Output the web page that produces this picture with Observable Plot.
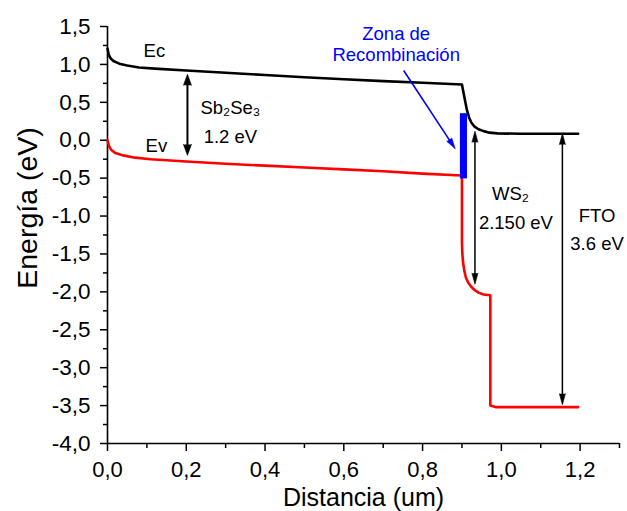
<!DOCTYPE html>
<html><head><meta charset="utf-8">
<script src="https://cdn.jsdelivr.net/npm/d3@7"></script>
<script src="https://cdn.jsdelivr.net/npm/@observablehq/plot@0.6"></script>
<style>body{margin:0;background:#fff} svg{display:block}</style>
</head><body><div id="chart"></div>
<script>
// Conduction band (Ec)
const ecDist   = [0.000, 0.003, 0.008, 0.015, 0.030, 0.050, 0.080, 0.120, 0.200, 0.300, 0.400, 0.500, 0.600, 0.700, 0.800, 0.900, 0.902, 0.905, 0.909, 0.913, 0.918, 0.924, 0.932, 0.942, 0.955, 0.970, 0.990, 1.050, 1.195];
const ecEnergy = [1.21, 1.13, 1.08, 1.045, 1.01, 0.985, 0.96, 0.945, 0.92, 0.89, 0.86, 0.83, 0.805, 0.78, 0.758, 0.735, 0.68, 0.60, 0.49, 0.39, 0.30, 0.23, 0.18, 0.145, 0.12, 0.10, 0.09, 0.085, 0.085];
// Valence band (Ev)
const evDist   = [0.000, 0.004, 0.010, 0.020, 0.040, 0.070, 0.110, 0.200, 0.300, 0.400, 0.500, 0.600, 0.700, 0.800, 0.900, 0.900, 0.901, 0.903, 0.906, 0.910, 0.916, 0.923, 0.932, 0.942, 0.955, 0.972, 0.972, 0.985, 1.195];
const evEnergy = [0.0, -0.08, -0.13, -0.17, -0.20, -0.23, -0.25, -0.28, -0.31, -0.335, -0.36, -0.385, -0.41, -0.44, -0.465, -1.35, -1.50, -1.62, -1.72, -1.81, -1.88, -1.93, -1.975, -2.01, -2.035, -2.045, -3.50, -3.52, -3.52];

const xTicks = [0, 0.2, 0.4, 0.6, 0.8, 1.0, 1.2];
const xMinorTicks = [0.1, 0.3, 0.5, 0.7, 0.9, 1.1, 1.3];
const yTicks = [-4, -3.5, -3, -2.5, -2, -1.5, -1, -0.5, 0, 0.5, 1, 1.5];
const yMinorTicks = [-3.75, -3.25, -2.75, -2.25, -1.75, -1.25, -0.75, -0.25, 0.25, 0.75, 1.25];

// band-gap arrows: x, top tip, bottom tip
const gapX      = [0.203, 0.933, 1.155];
const gapTop    = [0.87, 0.12, 0.09];
const gapBottom = [-0.20, -1.90, -3.49];
const gapWidth  = [2, 1.5, 1.5];
const gapHead   = [4, 3, 3];

// recombination zone
const zone = [{x1: 0.896, x2: 0.914, y1: -0.51, y2: 0.35}];
const zoneArrow = {x1: 0.752, y1: 0.92, x2: 0.883, y2: -0.114};

const blackLabels = [
  {x: 0.119, y: 1.18, text: "Ec"},
  {x: 0.124, y: -0.08, text: "Ev"},
  {x: 0.312, y: 0.43, text: "Sb\u2082Se\u2083"},
  {x: 0.312, y: 0.035, text: "1.2 eV"},
  {x: 1.023, y: -0.71, text: "WS\u2082"},
  {x: 1.037, y: -1.095, text: "2.150 eV"},
  {x: 1.243, y: -1.0, text: "FTO"},
  {x: 1.243, y: -1.37, text: "3.6 eV"}
];
const blueLabels = [
  {x: 0.733, y: 1.40, text: "Zona de"},
  {x: 0.733, y: 1.117, text: "Recombinación"}
];

const W = 627, H = 511;
const mL = 107, mR = 8, mT = 26, mB = 68;
const xDom = [0, 1.3], yDom = [-4, 1.5];
const pxPerX = (W - mL - mR) / (xDom[1] - xDom[0]);
const pxPerY = (H - mT - mB) / (yDom[1] - yDom[0]);

const ec = ecDist.map((d, i) => ({x: d, y: ecEnergy[i]}));
const ev = evDist.map((d, i) => ({x: d, y: evEnergy[i]}));

// filled arrowhead triangle (tip at x,y; angle clockwise from "up", in screen px)
function headTriangle(id, x, y, angleDeg, len, halfW) {
  const t = angleDeg * Math.PI / 180;
  const dx = Math.sin(t), dy = -Math.cos(t);
  const bx = -dx * len, by = -dy * len;
  const px = Math.cos(t), py = Math.sin(t);
  const pts = [[bx + px * halfW, by + py * halfW], [0, 0], [bx - px * halfW, by - py * halfW]];
  return pts.map(([ox, oy]) => ({id, x: x + ox / pxPerX, y: y - oy / pxPerY}));
}

const headLen = 11;
const shafts = [];
let heads = [];
gapX.forEach((x, i) => {
  const off = (headLen * 0.6) / pxPerY;
  shafts.push({x, y1: gapTop[i] - off, y2: gapBottom[i] + off, w: gapWidth[i]});
  heads = heads.concat(headTriangle("t" + i, x, gapTop[i], 0, headLen, gapHead[i]));
  heads = heads.concat(headTriangle("b" + i, x, gapBottom[i], 180, headLen, gapHead[i]));
});
const adx = (zoneArrow.x2 - zoneArrow.x1) * pxPerX;
const ady = -(zoneArrow.y2 - zoneArrow.y1) * pxPerY;
const blueAngle = Math.atan2(adx, -ady) * 180 / Math.PI;
const blen = Math.hypot(adx, ady);
const bfrac = (blen - 6) / blen;
const blueShaft = [{x1: zoneArrow.x1, y1: zoneArrow.y1,
  x2: zoneArrow.x1 + (zoneArrow.x2 - zoneArrow.x1) * bfrac,
  y2: zoneArrow.y1 + (zoneArrow.y2 - zoneArrow.y1) * bfrac}];
const blueHead = headTriangle("blue", zoneArrow.x2, zoneArrow.y2, blueAngle, 11, 3);

const fmt = d => d.toFixed(1).replace(".", ",");
const font = "'Liberation Sans', Arial, sans-serif";

const chart = Plot.plot({
  width: W, height: H,
  marginLeft: mL, marginRight: mR, marginTop: mT, marginBottom: mB,
  x: {domain: xDom},
  y: {domain: yDom},
  style: {fontFamily: font, background: "white", color: "black"},
  marks: [
    Plot.axisX(xMinorTicks, {anchor: "bottom", tickSize: 5, tickFormat: () => "", label: null, strokeWidth: 1.5}),
    Plot.axisY(yMinorTicks, {anchor: "left", tickSize: 4, tickFormat: () => "", label: null, strokeWidth: 1.5}),
    Plot.axisX(xTicks, {anchor: "bottom", tickSize: 8, tickPadding: 10, tickFormat: fmt, label: null, fontSize: 22, strokeWidth: 1.5}),
    Plot.axisY(yTicks, {anchor: "left", tickSize: 7, tickPadding: 10, tickFormat: fmt, label: null, fontSize: 22.5, strokeWidth: 1.5}),
    Plot.ruleX([0], {stroke: "black", strokeWidth: 1.6}),
    Plot.ruleY([-4], {stroke: "black", strokeWidth: 1.6}),
    Plot.line(ec, {x: "x", y: "y", stroke: "black", strokeWidth: 2.6}),
    Plot.line(ev, {x: "x", y: "y", stroke: "#ff0000", strokeWidth: 2.6}),
    Plot.rect(zone, {x1: "x1", x2: "x2", y1: "y1", y2: "y2", fill: "#0000ff"}),
    Plot.ruleX(shafts, {x: "x", y1: "y1", y2: "y2", stroke: "black", strokeWidth: d => d.w}),
    Plot.line(heads, {x: "x", y: "y", z: "id", fill: "black", stroke: "black", strokeWidth: 0.6}),
    Plot.link(blueShaft, {x1: "x1", y1: "y1", x2: "x2", y2: "y2", stroke: "#0000ff", strokeWidth: 1.6}),
    Plot.line(blueHead, {x: "x", y: "y", z: "id", fill: "#0000ff", stroke: "#0000ff", strokeWidth: 0.6}),
    Plot.text(blackLabels, {x: "x", y: "y", text: "text", fill: "black", fontSize: 18.5}),
    Plot.text(blueLabels, {x: "x", y: "y", text: "text", fill: "#0000ff", fontSize: 18.5}),
    Plot.text(["Distancia (um)"], {frameAnchor: "bottom", textAnchor: "middle", lineAnchor: "middle", dy: 54, fontSize: 25, fill: "black"}),
    Plot.text(["Energía (eV)"], {frameAnchor: "left", textAnchor: "middle", lineAnchor: "middle", rotate: -90, dx: -79.3, dy: -27, fontSize: 28.5, fill: "black"})
  ]
});
document.getElementById("chart").appendChild(chart);
</script>
</body></html>
